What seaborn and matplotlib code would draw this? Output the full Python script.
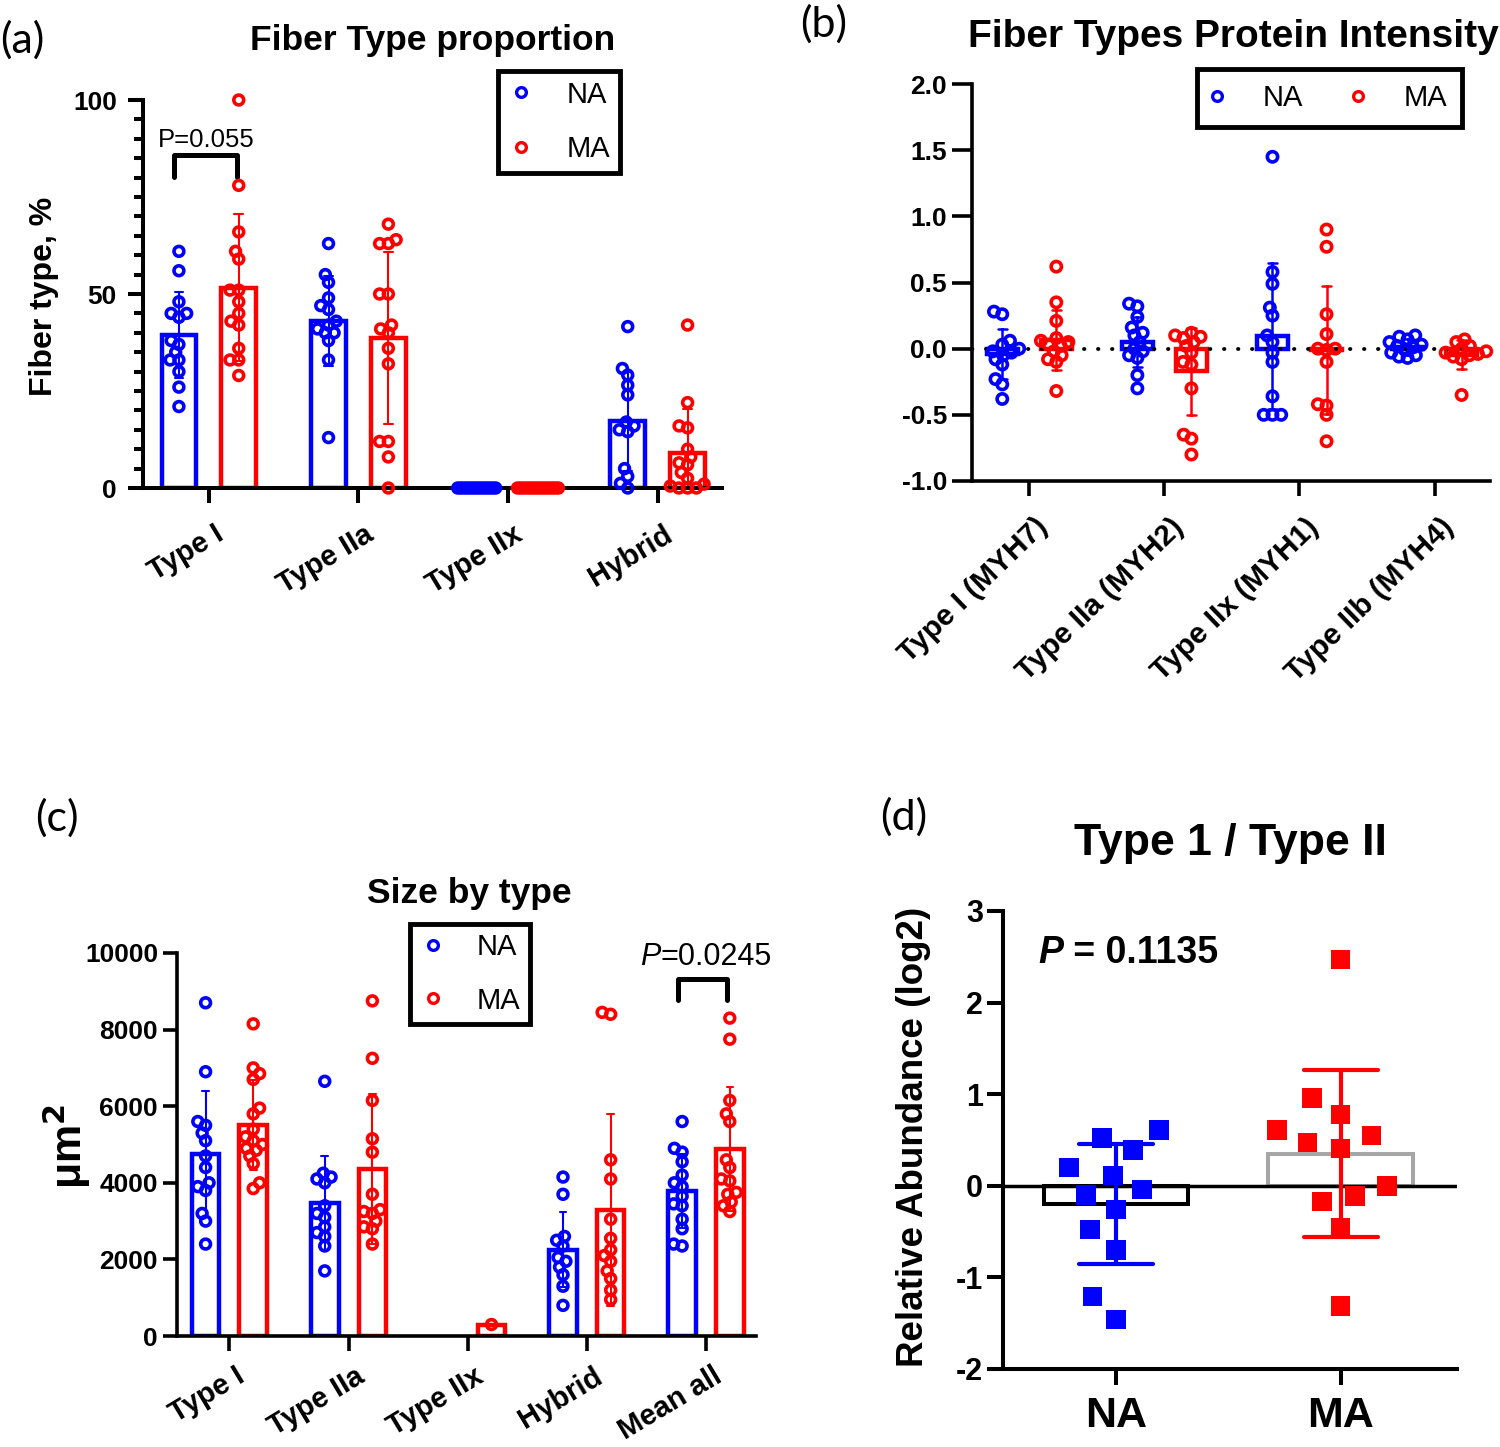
import numpy as np
import pandas as pd
import matplotlib
matplotlib.use("Agg")
import matplotlib.pyplot as plt
import matplotlib.transforms as mtransforms
from matplotlib.lines import Line2D
from matplotlib.ticker import MultipleLocator, FormatStrFormatter
import seaborn as sns

W, H = 1500, 1447
GROUPS = ["NA", "MA"]
PAL = {"NA": "#0000FF", "MA": "#FF0000"}

# (a) fiber type proportion, %
prop_types = ["Type I", "Type IIa", "Type IIx", "Hybrid"]
prop_na = [
    [61, 56, 48, 45, 45, 44, 38, 37, 35, 33, 33, 30, 26, 21],
    [63, 55, 53, 49, 47, 46, 43, 42, 41, 40, 40, 38, 33, 13],
    [0] * 14,
    [41.6, 30.8, 29.1, 26.5, 24, 17, 16, 15, 14.5, 5, 3, 1.2, 0],
]
prop_ma = [
    [100, 78, 66, 61, 59, 51, 51, 48, 45, 43, 42, 36, 33, 33, 29],
    [68, 64, 63, 63, 50, 50, 42, 41, 40, 36, 32, 12, 12, 8, 0],
    [0] * 15,
    [42, 22, 16, 15.5, 10, 8, 6.5, 6, 4, 2.5, 1, 0.5, 0, 0, 0],
]

# (b) fiber type protein intensity
myh_types = ["Type I (MYH7)", "Type IIa (MYH2)", "Type IIx (MYH1)", "Type IIb (MYH4)"]
myh_na = [
    [0.28, 0.26, 0.06, 0.03, 0.0, -0.02, -0.03, -0.05, -0.08, -0.12, -0.23, -0.27, -0.38],
    [0.34, 0.32, 0.24, 0.16, 0.12, 0.10, 0.05, 0.0, -0.02, -0.05, -0.07, -0.2, -0.3],
    [1.45, 0.58, 0.49, 0.31, 0.25, 0.1, 0.05, -0.03, -0.1, -0.36, -0.5, -0.5, -0.5],
    [0.10, 0.09, 0.07, 0.05, 0.03, 0.02, 0.01, -0.01, -0.03, -0.05, -0.06, -0.07],
]
myh_ma = [
    [0.62, 0.35, 0.21, 0.08, 0.06, 0.05, 0.03, 0.02, -0.02, -0.05, -0.08, -0.10, -0.32],
    [0.12, 0.10, 0.09, 0.08, 0.05, 0.02, -0.03, -0.1, -0.12, -0.3, -0.65, -0.68, -0.8],
    [0.9, 0.77, 0.26, 0.11, 0.0, 0.0, -0.01, -0.1, -0.43, -0.42, -0.5, -0.7],
    [0.07, 0.05, 0.02, 0.0, -0.02, -0.03, -0.04, -0.05, -0.06, -0.08, -0.35],
]

# (c) fiber size by type, um^2
size_types = ["Type I", "Type IIa", "Type IIx", "Hybrid", "Mean all"]
size_na = [
    [8700, 6900, 5600, 5500, 5300, 5100, 4700, 4400, 4000, 3900, 3800, 3200, 3000, 2400],
    [6650, 4250, 4150, 4100, 4000, 3400, 3200, 3100, 2850, 2700, 2600, 2350, 1700],
    [],
    [4150, 3700, 2600, 2500, 2350, 2050, 1950, 1800, 1600, 1300, 800],
    [5600, 4900, 4800, 4550, 4200, 4000, 3900, 3650, 3450, 3400, 3050, 2800, 2400, 2350],
]
size_ma = [
    [8150, 7000, 6850, 6700, 5950, 5800, 5400, 5200, 5100, 5000, 4900, 4850, 4700, 4500, 4000, 3850],
    [8750, 7250, 6150, 5150, 4800, 3700, 3300, 3250, 3200, 3000, 2850, 2800, 2400],
    [300],
    [8450, 8400, 4600, 4100, 3050, 2550, 2250, 2100, 1950, 1700, 1500, 1200, 950],
    [8300, 7750, 6150, 5800, 5600, 4600, 4400, 4100, 4050, 3750, 3700, 3500, 3400, 3250],
]

# (d) Type 1 / Type II relative abundance, log2
ratio_na = [0.61, 0.52, 0.39, 0.2, 0.11, -0.04, -0.1, -0.26, -0.48, -0.7, -1.21, -1.46]
ratio_ma = [2.47, 0.96, 0.78, 0.61, 0.55, 0.47, 0.41, 0.0, -0.11, -0.17, -0.46, -1.31]


sns.set_style("ticks")
plt.rcParams["font.family"] = ["Liberation Sans", "DejaVu Sans"]
plt.rcParams.update({
    "font.weight": "bold",
    "axes.unicode_minus": False,
    "axes.edgecolor": "black",
    "xtick.color": "black",
    "ytick.color": "black",
    "text.color": "black",
    "mathtext.default": "bf",
})

fig = plt.figure(figsize=(W / 100, H / 100), dpi=100)
swarms = []  # (collections, marker size, edge width, hollow)


def fx(x):
    return x / W


def fy(y):
    return 1 - y / H


def axes_at(left, top, right, bottom):
    return fig.add_axes([fx(left), fy(bottom), (right - left) / W, (bottom - top) / H])


def long_table(types, na_lists, ma_lists):
    rows = []
    for grp, lists in (("NA", na_lists), ("MA", ma_lists)):
        for t, vals in zip(types, lists):
            rows += [(t, grp, v) for v in vals]
    return pd.DataFrame(rows, columns=["type", "group", "value"])


def bars_and_dots(ax, df, types, capsize, err_lw, dot_size, dot_lw, packed=()):
    sns.barplot(data=df, x="type", y="value", hue="group", order=types, hue_order=GROUPS,
                palette=PAL, fill=False, errorbar="sd", capsize=capsize, gap=0.42,
                linewidth=3.2, err_kws={"linewidth": err_lw}, legend=False, ax=ax)
    # columns of identical values are packed tighter, like the original
    tight = df["type"].isin(packed)
    for sub, spread in ((df[~tight], 6), (df[tight], 2)):
        if sub.empty:
            continue
        n0 = len(ax.collections)
        sns.swarmplot(data=sub, x="type", y="value", hue="group", order=types,
                      hue_order=GROUPS, palette=PAL, dodge=True, size=spread, linewidth=0,
                      legend=False, warn_thresh=1, zorder=3, ax=ax)
        swarms.append((ax.collections[n0:], dot_size, dot_lw, True))
    ax.set_xlabel("")
    ax.set_ylabel("")


def style(ax, lw, xlen, ylen, xpad, ypad, xsize, ysize):
    sns.despine(ax=ax)
    for s in ("left", "bottom"):
        ax.spines[s].set_linewidth(lw)
    ax.tick_params(axis="x", length=xlen, width=lw, pad=xpad, labelsize=xsize)
    ax.tick_params(axis="y", which="both", width=lw, pad=ypad, labelsize=ysize)
    ax.tick_params(axis="y", which="major", length=ylen)


def slant(ax, angle, dx):
    shift = mtransforms.ScaledTranslation(dx / 100, 0, fig.dpi_scale_trans)
    for lab in ax.get_xticklabels():
        lab.set_rotation(angle)
        lab.set_horizontalalignment("right")
        lab.set_verticalalignment("top")
        lab.set_rotation_mode("anchor")
        lab.set_transform(lab.get_transform() + shift)


def legend_box(ax, left, top, ncol, bp, ls, hl, htp, cs=2.0):
    handles = [Line2D([0], [0], marker="o", ls="none", mfc="none", mec=PAL[g],
                      mew=2.4, ms=7) for g in GROUPS]
    leg = ax.legend(handles, GROUPS, loc="upper left", bbox_to_anchor=(fx(left), fy(top)),
                    bbox_transform=fig.transFigure, ncol=ncol, frameon=True, fancybox=False,
                    framealpha=1, edgecolor="black", borderpad=bp, labelspacing=ls,
                    handlelength=hl, handletextpad=htp, columnspacing=cs, borderaxespad=0,
                    prop={"size": 21, "weight": "normal"})
    leg.get_frame().set_linewidth(3.5)


def p_text(x, y, rest, size, weight):
    t1 = fig.text(fx(x), fy(y), "P", fontsize=size, fontweight=weight,
                  fontstyle="italic", va="baseline")
    bb = t1.get_window_extent(fig.canvas.get_renderer())
    fig.text(bb.x1 / W, fy(y), rest, fontsize=size, fontweight=weight, va="baseline")


# ---------- (a) ----------
ax_a = axes_at(143, 100, 722, 488)
bars_and_dots(ax_a, long_table(prop_types, prop_na, prop_ma), prop_types, 0.115, 1.5,
              50, 2.6, packed=["Type IIx"])
ax_a.set_xlim(-0.44, 3.43)
ax_a.set_ylim(0, 100)
ax_a.set_yticks([0, 50, 100])
ax_a.yaxis.set_minor_locator(MultipleLocator(5))
style(ax_a, 2.9, 10.8, 10.8, 12.2, 8, 21, 19)
ax_a.tick_params(axis="y", which="minor", length=6.5)
slant(ax_a, 31, 5)
ax_a.plot([-0.231, -0.231, 0.191, 0.191], [80.2, 85.8, 85.8, 80.2], color="black",
          lw=3.6, solid_capstyle="round", clip_on=False)
fig.text(fx(158), fy(147), "P=0.055", fontsize=18.5, fontweight="normal", va="baseline")
legend_box(ax_a, 498, 71, 1, 0.33, 0.91, 0.95, 1.08)
fig.text(fx(433), fy(50), "Fiber Type proportion", fontsize=25.5, ha="center", va="baseline")
fig.text(fx(44), fy(296), "Fiber type, %", fontsize=23, rotation=90, ha="center", va="center")

# ---------- (b) ----------
ax_b = axes_at(972, 84, 1490, 481)
bars_and_dots(ax_b, long_table(myh_types, myh_na, myh_ma), myh_types, 0.126, 1.8, 55, 2.6)
ax_b.axhline(0, color="black", lw=2.8, ls=(0, (0.1, 3.5)), dash_capstyle="round", zorder=1.5)
ax_b.set_xlim(-0.424, 3.41)
ax_b.set_ylim(-1, 2)
ax_b.set_yticks([-1.0, -0.5, 0.0, 0.5, 1.0, 1.5, 2.0])
ax_b.yaxis.set_major_formatter(FormatStrFormatter("%.1f"))
style(ax_b, 2.6, 10.8, 14.4, 12, 3.6, 21.5, 19)
slant(ax_b, 44, 5)
legend_box(ax_b, 1197, 69, 2, 0.52, 0.5, 0.31, 1.42, 1.72)
fig.text(fx(968), fy(47), "Fiber Types Protein Intensity", fontsize=28, ha="left", va="baseline")

# ---------- (c) ----------
ax_c = axes_at(177, 953, 756, 1336)
bars_and_dots(ax_c, long_table(size_types, size_na, size_ma), size_types, 0.11, 1.5, 50, 2.6)
ax_c.set_xlim(-0.44, 4.42)
ax_c.set_ylim(0, 10000)
ax_c.set_yticks([0, 2000, 4000, 6000, 8000, 10000])
style(ax_c, 2.6, 10.8, 10, 8, 3.6, 21, 19)
slant(ax_c, 31, 6)
ax_c.plot([3.766, 3.766, 4.18, 4.18], [8760, 9320, 9320, 8760], color="black",
          lw=3.6, solid_capstyle="round", clip_on=False)
p_text(640, 965, "=0.0245", 22, "normal")
legend_box(ax_c, 410, 924, 1, 0.31, 0.88, 0.95, 1.04)
fig.text(fx(469), fy(903), "Size by type", fontsize=25.5, ha="center", va="baseline")
fig.text(fx(67), fy(1146), "μm$^{2}$", fontsize=31, rotation=90, ha="center", va="center")

# ---------- (d) ----------
ax_d = axes_at(1003, 911, 1457, 1369)
df_d = pd.DataFrame({"group": ["NA"] * len(ratio_na) + ["MA"] * len(ratio_ma),
                     "value": ratio_na + ratio_ma})
sns.barplot(data=df_d, x="group", y="value", hue="group", order=GROUPS, hue_order=GROUPS,
            palette={"NA": "black", "MA": "#a6a6a6"}, fill=False, errorbar=None,
            width=0.645, linewidth=2.9, dodge=False, legend=False, ax=ax_d)
n0 = len(ax_d.collections)
sns.swarmplot(data=df_d, x="group", y="value", hue="group", order=GROUPS, hue_order=GROUPS,
              palette=PAL, marker="s", size=23, linewidth=0, legend=False,
              warn_thresh=1, zorder=3, ax=ax_d)
swarms.append((ax_d.collections[n0:], 196, 0, False))
sns.pointplot(data=df_d, x="group", y="value", hue="group", order=GROUPS, hue_order=GROUPS,
              palette=PAL, errorbar="sd", capsize=0.33, linestyle="none", marker="",
              dodge=False, legend=False, err_kws={"linewidth": 3, "zorder": 4}, ax=ax_d)
ax_d.axhline(0, color="black", lw=2.5, zorder=2.5)
ax_d.set_xlabel("")
ax_d.set_ylabel("")
ax_d.set_xlim(-0.503, 1.518)
ax_d.set_ylim(-2, 3)
ax_d.set_yticks([-2, -1, 0, 1, 2, 3])
style(ax_d, 2.9, 11.5, 11.5, 8, 3, 31, 22)
p_text(1038, 963, " = 0.1135", 27, "bold")
fig.text(fx(1230), fy(855), "Type 1 / Type II", fontsize=32, ha="center", va="baseline")
fig.text(fx(914), fy(1137), "Relative Abundance (log2)", fontsize=26.5, rotation=90,
         ha="center", va="center")

# panel letters
for lab, x, y in (("(a)", 0, 40), ("(b)", 800, 24), ("(c)", 35, 818), ("(d)", 880, 817)):
    fig.text(fx(x), fy(y), lab, fontsize=31, fontweight="normal",
             family=["Lato", "DejaVu Sans"], ha="left", va="center")

# lay out the swarms once, then freeze them and restyle the dots
fig.canvas.draw()
for colls, size, lw, hollow in swarms:
    for c in colls:
        c.__dict__.pop("draw", None)
        if hollow:
            fc = c.get_facecolors()
            c.set_edgecolors(fc)
            c.set_facecolors("none")
            c.set_linewidths(lw)
        c.set_sizes([size])
        c.set_clip_on(False)

fig.savefig("out.png", dpi=100)
